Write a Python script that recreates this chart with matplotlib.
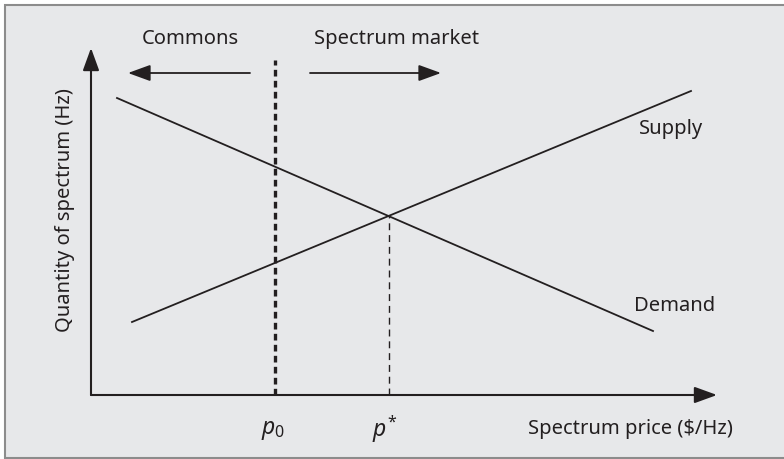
import matplotlib
matplotlib.use("Agg")
import matplotlib.pyplot as plt
from matplotlib.patches import Rectangle

plt.rcParams['font.family'] = ['Noto Sans', 'DejaVu Sans']
plt.rcParams['mathtext.fontset'] = 'custom'
plt.rcParams['mathtext.rm'] = 'Noto Sans'
plt.rcParams['mathtext.it'] = 'Noto Sans:italic'

# ---- data (price on x, quantity on y; arbitrary units) ----
demand_price = [0.26, 5.62]
demand_qty = [2.97, 0.64]
supply_price = [0.41, 6.00]
supply_qty = [0.73, 3.04]
p0 = 1.84
p_star = 2.98
q_star = 1.79
p0_top = 3.35
x_axis_end = 6.26
y_axis_end = 3.47
region_arrow_y = 3.22
commons_arrow = [1.59, 0.37]   # start, tip
market_arrow = [2.19, 3.50]    # start, tip
tick_labels = ['$p_0$', r'$p^{\!*}$']

BG = '#e7e8ea'
INK = '#231f20'

fig = plt.figure(figsize=(7.84, 4.60), dpi=100)
ax = fig.add_axes([0, 0, 1, 1])
ax.set_xlim(-0.91, 6.93)
ax.set_ylim(-0.64, 3.96)
ax.axis('off')

# background panel with border
ax.add_patch(Rectangle((-0.86, -0.63), 7.9, 4.53, facecolor=BG,
                       edgecolor='#8c8c8c', lw=1.5, zorder=0))

def arrow(x0, y0, x1, y1, lw=1.5):
    ax.annotate('', xy=(x1, y1), xytext=(x0, y0),
                arrowprops=dict(arrowstyle='-|>,head_length=0.55,head_width=0.2',
                                mutation_scale=25, lw=lw, color=INK,
                                shrinkA=0, shrinkB=0), zorder=3)

# axes
arrow(0, 0, x_axis_end, 0)
arrow(0, 0, 0, y_axis_end)

# demand and supply
ax.plot(demand_price, demand_qty, color=INK, lw=1.3, zorder=2)
ax.plot(supply_price, supply_qty, color=INK, lw=1.3, zorder=2)

# p0 thick dashed line
ax.plot([p0, p0], [0, p0_top], color=INK, lw=2.4, dashes=(2.0, 1.3), zorder=2)
# p* thin dashed line
ax.plot([p_star, p_star], [0, q_star], color=INK, lw=1.0, dashes=(5, 3.5), zorder=2)

# region arrows
arrow(commons_arrow[0], region_arrow_y, commons_arrow[1], region_arrow_y, lw=1.3)
arrow(market_arrow[0], region_arrow_y, market_arrow[1], region_arrow_y, lw=1.3)

fs = 14.5
ax.text(0.99, 3.57, 'Commons', ha='center', va='center', fontsize=fs, color=INK)
ax.text(3.06, 3.57, 'Spectrum market', ha='center', va='center', fontsize=fs, color=INK)
ax.text(5.80, 2.67, 'Supply', ha='center', va='center', fontsize=fs, color=INK)
ax.text(5.835, 0.90, 'Demand', ha='center', va='center', fontsize=fs, color=INK)
ax.text(5.39, -0.33, 'Spectrum price ($/Hz)', ha='center', va='center',
        fontsize=fs, color=INK)
ax.text(-0.26, 1.86, 'Quantity of spectrum (Hz)', ha='center', va='center',
        rotation=90, fontsize=fs, color=INK)
ax.text(p0 - 0.02, -0.34, tick_labels[0], ha='center', va='center', fontsize=16.5, color=INK)
ax.text(p_star - 0.04, -0.33, tick_labels[1], ha='center', va='center', fontsize=16.5, color=INK)

fig.savefig('out.png', dpi=100, facecolor='white')
